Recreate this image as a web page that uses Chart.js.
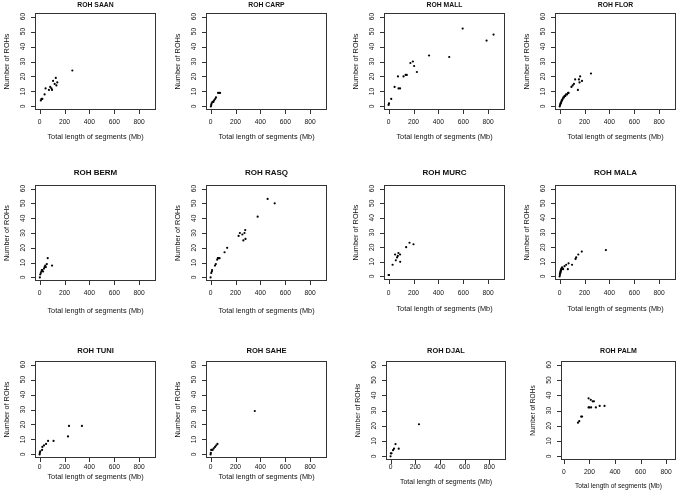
<!DOCTYPE html>
<html>
<head>
<meta charset="utf-8">
<script src="https://cdn.jsdelivr.net/npm/chart.js@4.4.1/dist/chart.umd.min.js"></script>
<style>
body { margin: 0; background: #fff; }
#wrap { position: relative; width: 685px; height: 496px; }
#wrap canvas { position: absolute; }
</style>
</head>
<body>
<div id="wrap"></div>
<script>
// ROH per population: [total length (Mb), number of ROHs]
const populations = ["SAAN", "CARP", "MALL", "FLOR", "BERM", "RASQ", "MURC", "MALA", "TUNI", "SAHE", "DJAL", "PALM"];

const saan = [[10,4],[15,5],[22,5],[40,8],[48,12],[75,11],[85,13],[95,12],[100,11],[108,17],[121,15],[130,19],[135,14],[142,16],[263,24]];
const carp = [[2,0],[5,1],[8,2],[15,3],[22,3],[28,4],[37,5],[43,6],[60,9],[68,9],[76,9]];
const mall = [[0,1],[3,2],[21,5],[48,13],[75,20],[80,12],[92,12],[120,20],[137,21],[146,21],[175,29],[195,30],[205,27],[227,23],[325,34],[487,33],[595,52],[787,44],[843,48]];
const flor = [[1,0],[4,1],[7,2],[10,2],[13,3],[17,4],[20,4],[25,5],[30,6],[35,6],[40,7],[46,7],[52,8],[60,8],[68,9],[72,9],[95,13],[105,14],[115,15],[125,18],[147,11],[155,18],[160,16],[165,20],[180,17],[252,22]];
const berm = [[2,0],[5,2],[10,3],[14,4],[18,5],[22,5],[28,4],[35,6],[40,7],[45,8],[50,7],[58,9],[65,13],[100,8]];
const rasq = [[0,0],[5,3],[10,4],[12,5],[35,8],[42,9],[53,12],[58,13],[65,13],[72,13],[112,17],[133,20],[225,28],[235,30],[255,29],[263,25],[272,30],[278,32],[280,26],[378,41],[458,53],[515,50]];
const murc = [[0,1],[3,1],[32,8],[52,15],[58,11],[68,13],[74,14],[79,16],[92,15],[93,10],[141,20],[168,23],[200,22]];
const mala = [[0,0],[2,1],[3,2],[5,2],[6,3],[8,3],[9,4],[11,4],[13,5],[15,5],[18,6],[22,6],[28,5],[40,7],[53,8],[66,5],[72,9],[100,8],[128,12],[133,13],[150,15],[178,17],[372,18]];
const tuni = [[0,0],[2,1],[5,2],[20,3],[22,5],[35,6],[52,7],[68,9],[112,9],[228,12],[236,19],[340,19]];
const sahe = [[0,0],[2,1],[5,3],[10,3],[16,3],[25,4],[35,5],[45,6],[55,7],[355,29]];
const djal = [[0,0],[2,2],[8,2],[20,4],[28,5],[40,8],[66,5],[230,21]];
const palm = [[110,22],[120,23],[135,26],[142,26],[193,38],[210,37],[225,36],[235,36],[193,32],[200,32],[213,32],[250,32],[280,33],[318,33]];

const series = [saan, carp, mall, flor, berm, rasq, murc, mala, tuni, sahe, djal, palm];

const xTicks = [0, 200, 400, 600, 800];
const yTicks = [0, 10, 20, 30, 40, 50, 60];
const xTitle = "Total length of segments (Mb)";
const yTitle = "Number of ROHs";

// page layout: cell [x,y,w,h], plot box [l,t,r,b], text rows (page y)
const panels = [
  {cell:[0,0,171,165],   box:[35,13,156,110],  title:5,   xlab:122, xtitle:137, tfs:6.8},
  {cell:[171,0,171,165], box:[206,13,327,110], title:5,   xlab:122, xtitle:137, tfs:6.8},
  {cell:[342,0,171,165], box:[384,13,505,110], title:5,   xlab:122, xtitle:137, tfs:6.8},
  {cell:[513,0,172,165], box:[555,13,676,110], title:5,   xlab:122, xtitle:137, tfs:6.8},
  {cell:[0,165,171,165],   box:[35,185,156,281],  title:173, xlab:293, xtitle:311, tfs:8},
  {cell:[171,165,171,165], box:[206,185,327,281], title:173, xlab:293, xtitle:311, tfs:8},
  {cell:[342,165,171,165], box:[384,185,505,280], title:173, xlab:293, xtitle:309, tfs:8},
  {cell:[513,165,172,165], box:[555,185,676,280], title:173, xlab:293, xtitle:309, tfs:8},
  {cell:[0,330,171,166],   box:[35,361,156,458],  title:351, xlab:467, xtitle:477, tfs:7.6},
  {cell:[171,330,171,166], box:[206,361,327,458], title:351, xlab:467, xtitle:477, tfs:7.6},
  {cell:[342,330,171,166], box:[386,361,506,460], title:351, xlab:467, xtitle:482, tfs:7.4, fs:7},
  {cell:[513,330,172,166], box:[561,361,676,460], title:351, xlab:472, xtitle:486, tfs:7, fs:6.6, xmin:-23, xmax:878}
];

const FONT = '"Liberation Sans", Arial, Helvetica, sans-serif';

function rAxes(p, name) {
  return {
    id: 'rAxes',
    afterDraw(chart) {
      const ctx = chart.ctx;
      const a = chart.chartArea;
      const x = chart.scales.x, y = chart.scales.y;
      const oy = p.cell[1];
      const fs = p.fs || 7.3;
      ctx.save();
      ctx.strokeStyle = '#333';
      ctx.lineWidth = 1;
      ctx.strokeRect(a.left + 0.5, a.top + 0.5, a.right - a.left - 1, a.bottom - a.top - 1);
      ctx.beginPath();
      xTicks.forEach(v => {
        const px = Math.round(x.getPixelForValue(v)) + 0.5;
        ctx.moveTo(px, a.bottom);
        ctx.lineTo(px, a.bottom + 4);
      });
      yTicks.forEach(v => {
        const py = Math.round(y.getPixelForValue(v)) + 0.5;
        ctx.moveTo(a.left, py);
        ctx.lineTo(a.left - 4, py);
      });
      ctx.stroke();

      ctx.fillStyle = '#111';
      ctx.textAlign = 'center';
      ctx.textBaseline = 'middle';
      ctx.font = '6.7px ' + FONT;
      xTicks.forEach(v => ctx.fillText(String(v), x.getPixelForValue(v), p.xlab - oy));
      yTicks.forEach(v => {
        ctx.save();
        ctx.translate(a.left - 12, y.getPixelForValue(v));
        ctx.rotate(-Math.PI / 2);
        ctx.fillText(String(v), 0, 0);
        ctx.restore();
      });

      ctx.font = fs + 'px ' + FONT;
      ctx.fillText(xTitle, (a.left + a.right) / 2, p.xtitle - oy);
      ctx.save();
      ctx.translate(a.left - 28, (a.top + a.bottom) / 2);
      ctx.rotate(-Math.PI / 2);
      ctx.fillText(yTitle, 0, 0);
      ctx.restore();

      ctx.font = 'bold ' + p.tfs + 'px ' + FONT;
      ctx.fillText('ROH ' + name, (a.left + a.right) / 2, p.title - oy);
      ctx.restore();
    }
  };
}

const wrap = document.getElementById('wrap');

panels.forEach((p, i) => {
  const c = document.createElement('canvas');
  c.width = p.cell[2];
  c.height = p.cell[3];
  c.style.left = p.cell[0] + 'px';
  c.style.top = p.cell[1] + 'px';
  wrap.appendChild(c);

  new Chart(c, {
    type: 'scatter',
    data: {
      datasets: [{
        data: series[i].map(d => ({x: d[0], y: d[1]})),
        pointRadius: 1.1,
        pointBorderWidth: 0,
        pointBackgroundColor: '#000'
      }]
    },
    options: {
      responsive: false,
      animation: false,
      devicePixelRatio: 1,
      layout: {
        padding: {
          left: p.box[0] - p.cell[0],
          top: p.box[1] - p.cell[1],
          right: p.cell[0] + p.cell[2] - p.box[2],
          bottom: p.cell[1] + p.cell[3] - p.box[3]
        }
      },
      plugins: {
        legend: {display: false},
        tooltip: {enabled: false}
      },
      scales: {
        x: {type: 'linear', display: false, min: p.xmin ?? -37, max: p.xmax ?? 935},
        y: {type: 'linear', display: false, min: -2.4, max: 62.4}
      }
    },
    plugins: [rAxes(p, populations[i])]
  });
});
</script>
</body>
</html>
